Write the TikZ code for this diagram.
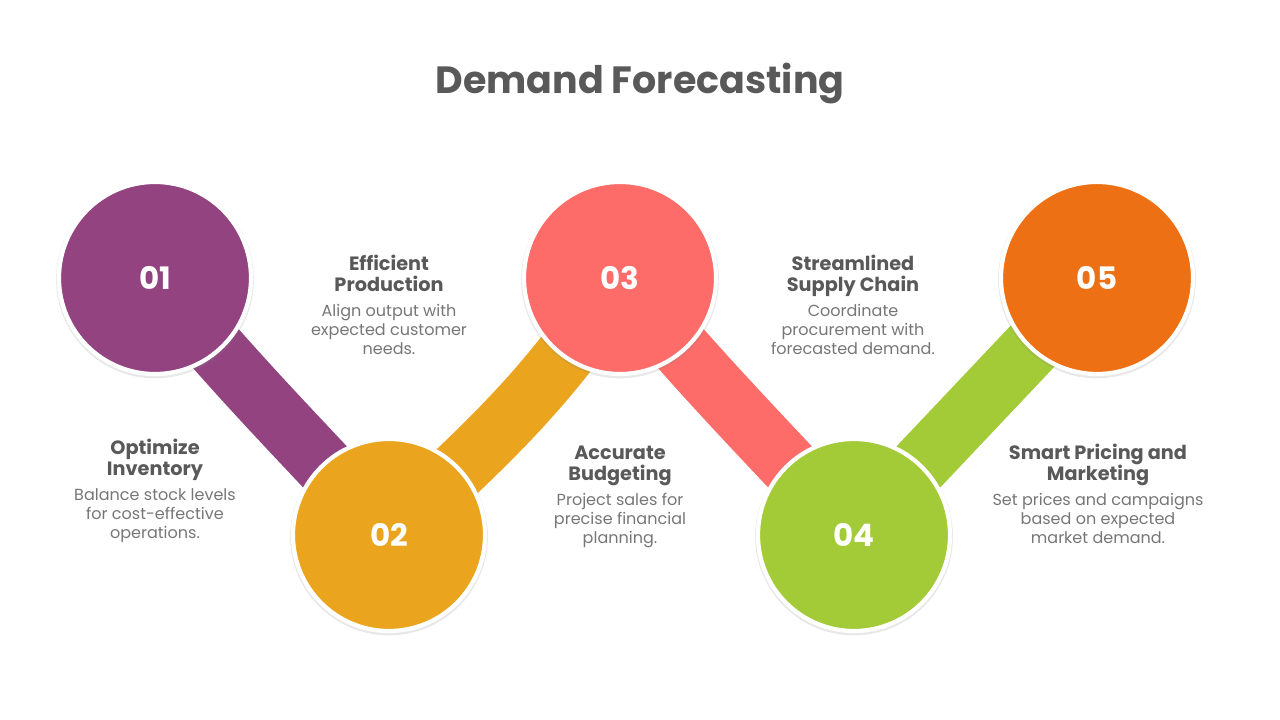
\documentclass[tikz,border=0pt]{standalone}
\usepackage{fontspec}
\setmainfont{Poppins}
\usepackage{tikz}
\usetikzlibrary{positioning,shadows,backgrounds}
\definecolor{stepviolet}{RGB}{147,68,128}
\definecolor{stepamber}{RGB}{234,164,30}
\definecolor{stepcoral}{RGB}{253,108,104}
\definecolor{steplime}{RGB}{163,203,56}
\definecolor{steporange}{RGB}{237,113,20}
\definecolor{headgray}{RGB}{89,89,89}
\definecolor{bodygray}{RGB}{118,118,118}

\begin{document}
\begin{tikzpicture}[x=0.025cm, y=0.025cm,
    band/.style={line width=1.5cm},
    disc/.style={circle, draw=white, line width=3pt, minimum size=4.8cm,
        inner sep=0pt, text=white, font=\bfseries\fontsize{22}{26}\selectfont,
        drop shadow={opacity=0.18, shadow xshift=0pt, shadow yshift=-1pt, shadow scale=1.03}},
    headline/.style={anchor=base, align=center, text=headgray, inner sep=0pt,
        font=\bfseries\fontsize{13.7}{15.6}\selectfont},
    bodyline/.style={anchor=base, align=center, text=bodygray, inner sep=0pt,
        font=\fontsize{11.4}{13.6}\selectfont}]
    \useasboundingbox (0,0) rectangle (1280,720);
    % title
    \node[font=\bfseries\fontsize{27}{32}\selectfont, text=headgray] (title) at (640,636) {Demand Forecasting};
    % steps
    \node[disc, fill=stepviolet] (s1) at (155,442) {01};
    \node[disc, fill=stepamber]  (s2) at (389,185) {02};
    \node[disc, fill=stepcoral]  (s3) at (620,442) {03};
    \node[disc, fill=steplime]   (s4) at (854,185) {04};
    \node[disc, fill=steporange] (s5) at (1097,442) {05};
    % ribbons between the steps
    \begin{pgfonlayer}{background}
        \draw[band, stepviolet] (s1.center) to[out=-50, in=133] (s2.center);
        \draw[band, stepamber]  (s2.center) to[out=43, in=-123] (s3.center);
        \draw[band, stepcoral]  (s3.center) to[out=-50, in=133] (s4.center);
        \draw[band, steplime]   (s4.center) -- (s5.center);
    \end{pgfonlayer}
    % texts (base = last line)
    \node[headline] (h1) at (155,244) {Optimize\\Inventory};
    \node[bodyline] (b1) at (155,181) {Balance stock levels\\for cost-effective\\operations.};
    \node[headline] (h2) at (389,428) {Efficient\\Production};
    \node[bodyline] (b2) at (389,365) {Align output with\\expected customer\\needs.};
    \node[headline] (h3) at (620,239) {Accurate\\Budgeting};
    \node[bodyline] (b3) at (620,176) {Project sales for\\precise financial\\planning.};
    \node[headline] (h4) at (853,428) {Streamlined\\Supply Chain};
    \node[bodyline] (b4) at (853,365) {Coordinate\\procurement with\\forecasted demand.};
    \node[headline] (h5) at (1098,239) {Smart Pricing and\\Marketing};
    \node[bodyline] (b5) at (1098,176) {Set prices and campaigns\\based on expected\\market demand.};
\end{tikzpicture}
\end{document}
